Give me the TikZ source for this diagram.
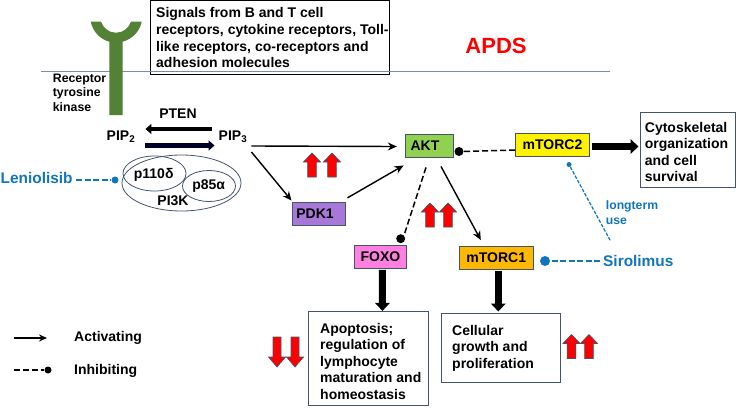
\documentclass[tikz,border=0pt]{standalone}
\usepackage{fontspec}
\setmainfont{Liberation Sans}
\usetikzlibrary{arrows.meta,shapes.geometric}
\definecolor{rtkgreen}{HTML}{538135}
\definecolor{drugblue}{HTML}{0F75BD}
\definecolor{edgeslate}{HTML}{44546A}
\definecolor{memgray}{HTML}{7C8CA8}
\definecolor{aktgreen}{HTML}{92D050}
\definecolor{pdkpurple}{HTML}{A878D8}
\definecolor{foxopink}{HTML}{FF80E0}
\definecolor{torcamber}{HTML}{FFB800}
\tikzset{
  x=1pt,y=-1pt,
  lab/.style={font=\bfseries\fontsize{14}{16.6}\selectfont,inner sep=0,align=left},
  kinase/.style={draw=edgeslate,line width=0.9pt,inner sep=0,font=\bfseries\fontsize{14}{16}\selectfont},
  outcome/.style={draw=edgeslate,line width=1pt,fill=white,inner sep=0},
  act/.style={-{Stealth[length=9pt,width=8pt]},line width=1.4pt},
  inh/.style={line width=1.5pt,dash pattern=on 6pt off 3pt},
  inhdot/.style={circle,fill=black,inner sep=0,minimum size=9pt},
  bigarrow/.style={line width=7pt,-{Triangle[length=8pt,width=14.5pt]}},
  drug/.style={text=drugblue,font=\bfseries\fontsize{15.4}{18}\selectfont,inner sep=0},
  drugline/.style={draw=drugblue,line width=1.4pt,dash pattern=on 6pt off 2.5pt},
  drugdot/.style={circle,fill=drugblue,inner sep=0},
  ring/.style={draw=edgeslate,line width=0.8pt,ellipse,inner sep=0},
  redmark/.style={draw=edgeslate,fill=red,line width=0.7pt,line join=miter},
  upmark/.pic={\path[redmark] (0,-12) -- (8.5,-3) -- (4.3,-3) -- (4.3,12) -- (-4.3,12) -- (-4.3,-3) -- (-8.5,-3) -- cycle;},
  downmark/.pic={\path[redmark] (0,15) -- (8.5,5) -- (4,5) -- (4,-15) -- (-4,-15) -- (-4,5) -- (-8.5,5) -- cycle;},
}
\begin{document}
\begin{tikzpicture}
\useasboundingbox (0,0) rectangle (736,407);

% ligand signals box and membrane
\node[draw=black,line width=0.9pt,fill=white,inner sep=0,minimum width=239pt,minimum height=74pt,anchor=north west] (signals) at (150,0) {};
\node[lab,anchor=north west] (signalstext) at (156,7.5) {Signals from B and T cell\\receptors, cytokine receptors, Toll-\\like receptors, co-receptors and\\adhesion molecules};
\coordinate (memleft) at (41,71.5);
\coordinate (memright) at (610,71.5);
\draw[memgray,line width=0.7pt] (memleft) -- (memright);

% receptor tyrosine kinase
\fill[rtkgreen] (90.7,21.7) .. controls (93,32) and (100,39) .. (109.3,41.7) -- (109.3,115) -- (122.7,115) -- (122.7,41.7)
  .. controls (132,39) and (139.5,32) .. (141.7,21.7) -- (131,21.7)
  .. controls (128.5,28.5) and (123,32.7) .. (116,32.7) .. controls (109,32.7) and (103.5,28.5) .. (101,21.7) -- cycle;
\node[lab,anchor=north west,font=\bfseries\fontsize{12.3}{14.6}\selectfont] (rtk) at (52.7,73.7) {Receptor\\tyrosine\\kinase};

% phosphoinositide cycle
\node[lab] (pten) at (178,113.5) {PTEN};
\node[lab] (pip2) at (121,136.5) {PIP\textsubscript{2}};
\node[lab] (pip3) at (233,136.5) {PIP\textsubscript{3}};
\draw[line width=4.7pt,-{Triangle[length=6pt,width=10pt]}] ([shift={(-7,-7.5)}]pip3.west) -- ([shift={(10,-7.5)}]pip2.east);
\draw[line width=4.7pt,-{Triangle[length=6pt,width=10pt]},draw=black!85!blue] ([shift={(10,9)}]pip2.east) -- ([shift={(-4,9)}]pip3.west);

% PI3K complex
\node[ring,minimum width=119pt,minimum height=56pt] (pi3k) at (181.5,183) {};
\node[ring,minimum width=63pt,minimum height=35pt] (p110) at (154.5,173.5) {};
\node[ring,minimum width=53pt,minimum height=31pt,fill=white] (p85) at (209,186) {};
\node[lab] (p110t) at (153.7,175) {p110δ};
\node[lab] (p85t) at (208.7,186) {p85α};
\node[lab] (pi3kt) at (173,201) {PI3K};
\node[drug,anchor=west] (lenio) at (0.5,177.5) {Leniolisib};
\node[drugdot,minimum size=7pt] (leniodot) at (115,180) {};
\draw[drugline] ([shift={(3.5,2.5)}]lenio.east) -- (leniodot.west);

% signalling kinases
\node[kinase,fill=aktgreen,minimum width=48pt,minimum height=23pt] (akt) at (429,145.5) {AKT\kern8pt};
\node[kinase,fill=yellow,minimum width=74pt,minimum height=23pt] (mtorc2) at (552.5,144.5) {mTORC2};
\node[kinase,fill=pdkpurple,minimum width=53pt,minimum height=23pt] (pdk1) at (318.5,213.5) {PDK1\kern7pt};
\node[kinase,fill=foxopink,minimum width=52pt,minimum height=23.5pt] (foxo) at (380.5,256.7) {FOXO};
\node[kinase,fill=torcamber,minimum width=74pt,minimum height=23pt] (mtorc1) at (496.3,258) {mTORC1};

% cellular outcomes
\node[outcome,minimum width=95pt,minimum height=74.5pt] (cyto) at (688,149.8) {};
\node[lab,anchor=north west] (cytot) at (644.7,121.7) {Cytoskeletal\\organization\\and cell\\survival};
\node[outcome,minimum width=120pt,minimum height=94pt] (apop) at (368.5,358.7) {};
\node[lab,anchor=north west] (apopt) at (320,322.8) {Apoptosis;\\regulation of\\lymphocyte\\maturation and\\homeostasis};
\node[outcome,minimum width=119pt,minimum height=69pt] (growth) at (501,347.8) {};
\node[lab,anchor=north west] (growtht) at (452,325) {Cellular\\growth and\\proliferation};

% activating connectors
\draw[act] ([shift={(4,9.5)}]pip3.east) -- ([shift={(-7.7,1)}]akt.west);
\draw[act] ([shift={(4,15.5)}]pip3.east) -- ([shift={(-27,-1)}]pdk1.north);
\draw[act] ([shift={(29,-3.7)}]pdk1.north) -- ([shift={(-1,8)}]akt.south west);
\draw[act] ([shift={(12,9)}]akt.south) -- ([shift={(-15.5,-6)}]mtorc1.north);

% inhibiting connectors
\node[inhdot] (aktdot) at (459,151.5) {};
\draw[inh] ([shift={(0,5.5)}]mtorc2.west) -- (aktdot.east);
\node[inhdot] (foxodot) at (400.7,238.7) {};
\draw[inh] ([shift={(-3,10)}]akt.south) -- (foxodot.north east);

% drug effects
\node[drug,anchor=west] (siro) at (603,261) {Sirolimus};
\node[drugdot,minimum size=10pt] (sirodot) at (545,261) {};
\draw[drugline] ([shift={(-3,0)}]siro.west) -- (sirodot.east);
\node[drugdot,minimum size=5pt] (mdot) at (569,164.5) {};
\coordinate (longend) at (610.5,241);
\draw[drugline,line width=1.2pt,dash pattern=on 3.5pt off 1.5pt] (mdot) -- (longend);
\node[lab,anchor=north west,text=drugblue,font=\bfseries\fontsize{12.2}{15}\selectfont] (longterm) at (605.7,200.3) {longterm\\use};

% heavy output arrows
\draw[bigarrow] ([shift={(2.5,2)}]mtorc2.east) -- ([shift={(-1.5,-3.3)}]cyto.west);
\draw[bigarrow] ([shift={(1.8,1)}]foxo.south) -- ([shift={(14,-0.3)}]apop.north);
\draw[bigarrow] ([shift={(2,1.5)}]mtorc1.south) -- ([shift={(-2.7,-1.3)}]growth.north);

% regulation markers
\pic (up1) at (312,165) {upmark};
\pic (up2) at (332,165) {upmark};
\pic (up3) at (430,215) {upmark};
\pic (up4) at (448,215) {upmark};
\pic (up5) at (571.5,346.5) {upmark};
\pic (up6) at (589,346.5) {upmark};
\pic (down1) at (277,352) {downmark};
\pic (down2) at (295,352) {downmark};

% key
\coordinate (keya) at (14,338);
\coordinate (keyb) at (47,338);
\draw[-{Stealth[length=8pt,width=7pt]},line width=1.4pt] (keya) -- (keyb);
\node[lab,anchor=west] (activating) at (74,338) {Activating};
\coordinate (keyc) at (14,370);
\node[inhdot,minimum size=7pt] (keydot) at (48,370) {};
\draw[inh] (keyc) -- (keydot.west);
\node[lab,anchor=west] (inhibiting) at (74,371) {Inhibiting};

% title
\node[text=red,font=\bfseries\fontsize{22}{24}\selectfont,inner sep=0] (apds) at (496,46) {APDS};
\end{tikzpicture}
\end{document}
